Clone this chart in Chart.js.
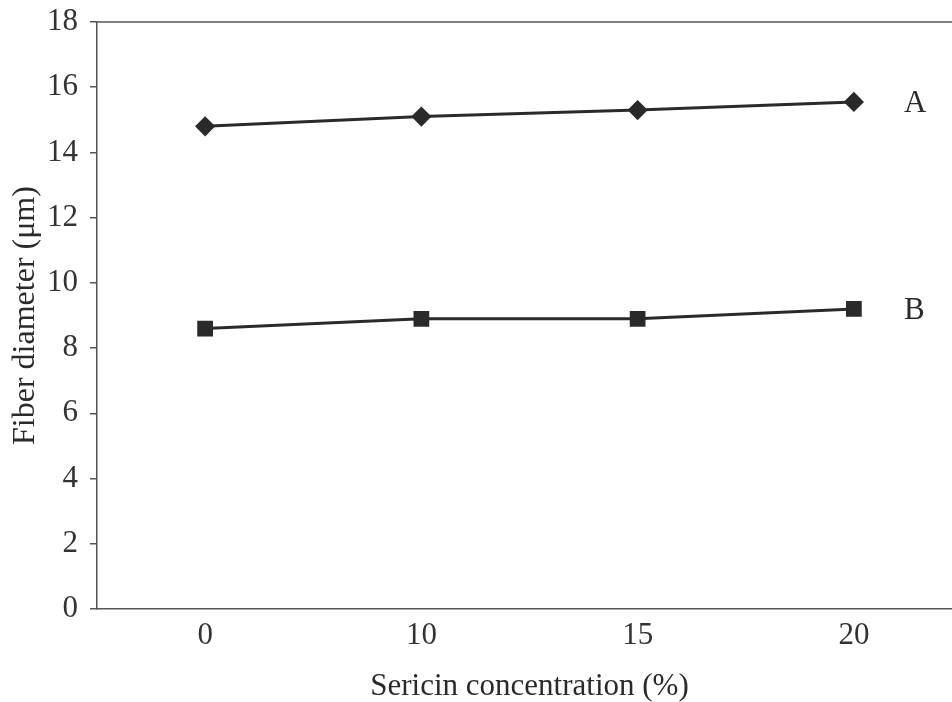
<!DOCTYPE html>
<html>
<head>
<meta charset="utf-8">
<script src="https://cdn.jsdelivr.net/npm/chart.js@4.4.1/dist/chart.umd.min.js"></script>
<style>
  html, body { margin: 0; padding: 0; background: #fff; overflow: hidden; }
  #wrap { width: 974px; height: 702px; }
</style>
</head>
<body>
<div id="wrap"><canvas id="chart" width="974" height="702"></canvas></div>
<script>
const concentrations = ["0", "10", "15", "20"];
const seriesA = [14.8, 15.1, 15.3, 15.55];
const seriesB = [8.6, 8.9, 8.9, 9.2];
const seriesNames = ["A", "B"];
const yTicks = [0, 2, 4, 6, 8, 10, 12, 14, 16, 18];

const ink = "#2a2a2a";
const serif = "'Liberation Serif', 'DejaVu Serif', serif";
const fontSize = 31;

// top frame line + series letters to the right of the last point
const extras = {
  id: "extras",
  afterDatasetsDraw(chart) {
    const { ctx, chartArea } = chart;
    ctx.save();
    ctx.strokeStyle = "#555";
    ctx.lineWidth = 1.5;
    ctx.beginPath();
    ctx.moveTo(chartArea.left, chartArea.top);
    ctx.lineTo(chartArea.right, chartArea.top);
    ctx.stroke();

    ctx.fillStyle = ink;
    ctx.font = fontSize + "px " + serif;
    ctx.textBaseline = "middle";
    chart.data.datasets.forEach((ds, i) => {
      const meta = chart.getDatasetMeta(i);
      const last = meta.data[meta.data.length - 1];
      ctx.fillText(seriesNames[i], last.x + 50, last.y + 2);
    });
    ctx.restore();
  }
};

new Chart(document.getElementById("chart"), {
  type: "line",
  data: {
    labels: concentrations,
    datasets: [
      {
        label: seriesNames[0],
        data: seriesA,
        borderColor: ink,
        backgroundColor: ink,
        borderWidth: 3,
        pointStyle: "rectRot",
        pointRadius: 8,
        tension: 0
      },
      {
        label: seriesNames[1],
        data: seriesB,
        borderColor: ink,
        backgroundColor: ink,
        borderWidth: 3,
        pointStyle: "rect",
        pointRadius: 9,
        tension: 0
      }
    ]
  },
  options: {
    responsive: false,
    animation: false,
    layout: { padding: { top: 22, right: 0, left: 0, bottom: 0 } },
    plugins: { legend: { display: false }, tooltip: { enabled: false } },
    scales: {
      x: {
        offset: true,
        afterFit: (axis) => { axis.height = 93; },
        grid: { display: false },
        border: { display: true, color: "#555", width: 1.5 },
        ticks: { color: "#333", font: { family: serif, size: fontSize }, padding: 0 },
        title: {
          display: true,
          text: "Sericin concentration (%)",
          color: ink,
          font: { family: serif, size: fontSize },
          padding: { top: 0, bottom: -3 }
        }
      },
      y: {
        min: 0,
        max: 18,
        afterBuildTicks: (axis) => { axis.ticks = yTicks.map(v => ({ value: v })); },
        afterFit: (axis) => { axis.width = 97; axis.paddingTop = 0; },
        grid: { drawOnChartArea: false, drawTicks: true, tickLength: 7, color: "#555", lineWidth: 1.5 },
        border: { display: true, color: "#555", width: 1.5 },
        ticks: { color: "#333", font: { family: serif, size: fontSize }, padding: 12 },
        title: {
          display: true,
          text: "Fiber diameter (μm)",
          color: ink,
          font: { family: serif, size: 32 },
          padding: { top: 6, bottom: 4 }
        }
      }
    }
  },
  plugins: [extras]
});
</script>
</body>
</html>
